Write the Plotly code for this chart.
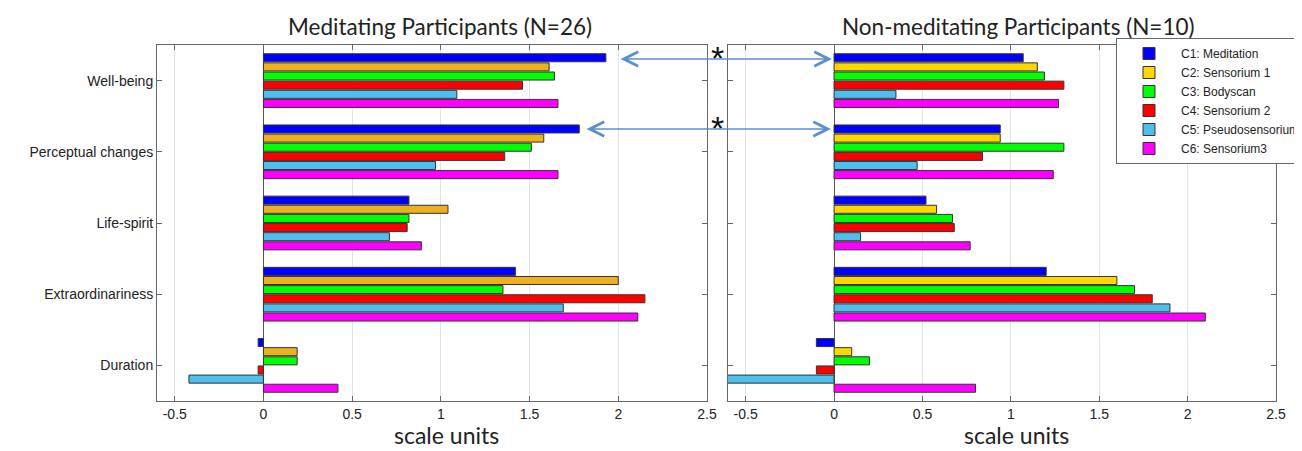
import plotly.graph_objects as go

categories = ["Well-being", "Perceptual changes", "Life-spirit", "Extraordinariness", "Duration"]
conditions = ["C1: Meditation", "C2: Sensorium 1", "C3: Bodyscan", "C4: Sensorium 2",
              "C5: Pseudosensorium", "C6: Sensorium3"]

# Meditating participants (N=26): one list per condition, values per category
med_c1 = [1.93, 1.78, 0.82, 1.42, -0.03]
med_c2 = [1.61, 1.58, 1.04, 2.00, 0.19]
med_c3 = [1.64, 1.51, 0.82, 1.35, 0.19]
med_c4 = [1.46, 1.36, 0.81, 2.15, -0.03]
med_c5 = [1.09, 0.97, 0.71, 1.69, -0.42]
med_c6 = [1.66, 1.66, 0.89, 2.11, 0.42]

# Non-meditating participants (N=10)
non_c1 = [1.07, 0.94, 0.52, 1.20, -0.10]
non_c2 = [1.15, 0.94, 0.58, 1.60, 0.10]
non_c3 = [1.19, 1.30, 0.67, 1.70, 0.20]
non_c4 = [1.30, 0.84, 0.68, 1.80, -0.10]
non_c5 = [0.35, 0.47, 0.15, 1.90, -0.65]
non_c6 = [1.27, 1.24, 0.77, 2.10, 0.80]

tick_vals = [-0.5, 0, 0.5, 1, 1.5, 2, 2.5]
tick_text = ["-0.5", "0", "0.5", "1", "1.5", "2", "2.5"]

med_series = [med_c1, med_c2, med_c3, med_c4, med_c5, med_c6]
non_series = [non_c1, non_c2, non_c3, non_c4, non_c5, non_c6]
colors_left = ["#0000FF", "#EDB120", "#00FF00", "#FF0000", "#4DBEEE", "#FF00FF"]
colors_right = ["#0000FF", "#FFD700", "#00FF00", "#FF0000", "#4DBEEE", "#FF00FF"]

fig = go.Figure()
for name, vals, col in zip(conditions, med_series, colors_left):
    fig.add_trace(go.Bar(y=categories, x=vals, orientation="h", name=name,
                         marker=dict(color=col, line=dict(color="#333333", width=1)),
                         xaxis="x", yaxis="y", showlegend=False, legendgroup=name))
for name, vals, col in zip(conditions, non_series, colors_right):
    fig.add_trace(go.Bar(y=categories, x=vals, orientation="h", name=name,
                         marker=dict(color=col, line=dict(color="#333333", width=1)),
                         xaxis="x2", yaxis="y2", showlegend=True, legendgroup=name))

# the page body adds an 8px offset; geometry below is in screen pixels
OFF = 8
W, H = 1302 - OFF, 451 - OFF
PL, PR, PT, PB = 157, 1276, 45, 401  # plot area in screen pixels
ml, mr, mt, mb = PL - OFF, W - (PR - OFF), PT - OFF, H - (PB - OFF)

def px(x):
    return (x - PL) / (PR - PL)

def py(y):
    return (PB - y) / (PB - PT)

axis_common = dict(range=[-0.6, 2.5], tickvals=tick_vals, ticktext=tick_text,
                   showgrid=True, gridcolor="#e3e3e3", gridwidth=1,
                   zeroline=True, zerolinecolor="#555555", zerolinewidth=1,
                   showline=True, linecolor="#666666", linewidth=1, mirror="ticks",
                   ticks="inside", ticklen=5, tickcolor="#666666",
                   tickfont=dict(family="Arial", size=14, color="#222222"))
yaxis_common = dict(autorange="reversed", showline=True, linecolor="#666666", linewidth=1,
                    mirror="ticks", ticks="inside", ticklen=5, tickcolor="#666666",
                    showgrid=False, zeroline=False,
                    tickfont=dict(family="Arial", size=14, color="#222222"))

fig.update_layout(
    width=W, height=H,
    margin=dict(l=ml, r=mr, t=mt, b=mb, autoexpand=False),
    paper_bgcolor="white", plot_bgcolor="white",
    barmode="group", bargap=0.23, bargroupgap=0.12,
    xaxis=dict(domain=[0, px(707)], anchor="y", **axis_common),
    xaxis2=dict(domain=[px(728), 1], anchor="y2", **axis_common),
    yaxis=dict(domain=[0, 1], anchor="x", **yaxis_common),
    yaxis2=dict(domain=[0, 1], anchor="x2", showticklabels=False, **yaxis_common),
    legend=dict(x=px(1116), y=py(38), xanchor="left", yanchor="top",
                bgcolor="white", bordercolor="#666666", borderwidth=1,
                font=dict(family="Arial", size=12, color="#222222"),
                tracegroupgap=0, itemwidth=54),
    showlegend=True,
)

title_font = dict(family="Lato", size=22.5, color="#222222")
label_font = dict(family="Lato", size=23, color="#222222")
arrow_style = dict(xref="paper", yref="paper", showarrow=True, arrowside="end+start",
                   arrowhead=5, startarrowhead=5, arrowsize=2.2, startarrowsize=2.2,
                   arrowwidth=1.3, arrowcolor="#5B8FD0", text="", ay=0)
annotations = [
    dict(text="Meditating Participants (N=26)", x=px(440), y=py(27), xref="paper", yref="paper",
         xanchor="center", yanchor="middle", showarrow=False, font=title_font),
    dict(text="Non-meditating Participants (N=10)", x=px(1018), y=py(27), xref="paper", yref="paper",
         xanchor="center", yanchor="middle", showarrow=False, font=title_font),
    dict(text="scale units", x=px(446), y=py(435), xref="paper", yref="paper",
         xanchor="center", yanchor="middle", showarrow=False, font=label_font),
    dict(text="scale units", x=px(1016), y=py(435), xref="paper", yref="paper",
         xanchor="center", yanchor="middle", showarrow=False, font=label_font),
    dict(text="*", x=px(717), y=py(57.5), xref="paper", yref="paper", showarrow=False,
         xanchor="center", yanchor="middle", font=dict(family="Arial", size=34, color="#111111")),
    dict(text="*", x=px(717), y=py(127.5), xref="paper", yref="paper", showarrow=False,
         xanchor="center", yanchor="middle", font=dict(family="Arial", size=34, color="#111111")),
    dict(x=px(832), y=py(59), ax=-(832 - 619), **arrow_style),
    dict(x=px(831), y=py(129), ax=-(831 - 585), **arrow_style),
]
fig.update_layout(annotations=annotations)

fig.write_html("out.html")
